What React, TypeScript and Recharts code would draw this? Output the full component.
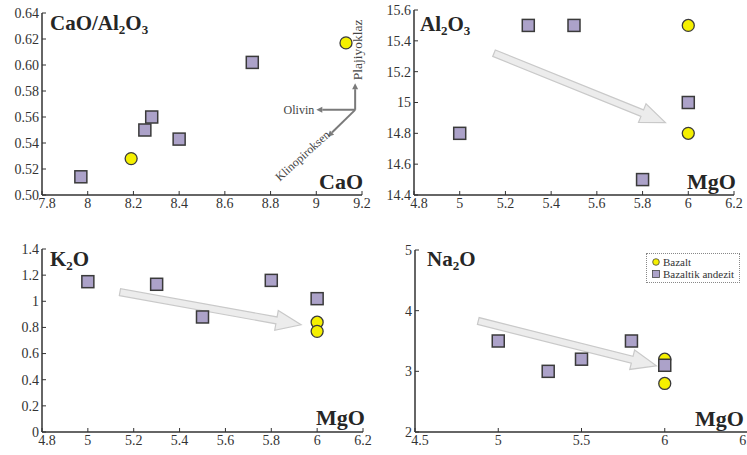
import React from 'react';
import { ScatterChart, Scatter, XAxis, YAxis, ReferenceLine } from 'recharts';

// CaO vs CaO/Al2O3
const bazaltCaO = [8.19, 9.13];
const bazaltCaORatio = [0.528, 0.617];
const andezitCaO = [7.97, 8.25, 8.28, 8.4, 8.72];
const andezitCaORatio = [0.514, 0.55, 0.56, 0.543, 0.602];

// MgO based panels
const bazaltMgO = [6.0, 6.0];
const andezitMgO = [5.0, 5.3, 5.5, 5.8, 6.0];
const bazaltAl2O3 = [15.5, 14.8];
const andezitAl2O3 = [14.8, 15.5, 15.5, 14.5, 15.0];
const bazaltK2O = [0.84, 0.77];
const andezitK2O = [1.15, 1.13, 0.88, 1.16, 1.02];
const bazaltNa2O = [3.2, 2.8];
const andezitNa2O = [3.5, 3.0, 3.2, 3.5, 3.1];

// tick labels
const caoTicks = [7.8, 8, 8.2, 8.4, 8.6, 8.8, 9, 9.2];
const ratioTicks = [0.5, 0.52, 0.54, 0.56, 0.58, 0.6, 0.62, 0.64];
const mgoTicks = [4.8, 5, 5.2, 5.4, 5.6, 5.8, 6, 6.2];
const al2o3Ticks = [14.4, 14.6, 14.8, 15, 15.2, 15.4, 15.6];
const k2oTicks = [0, 0.2, 0.4, 0.6, 0.8, 1, 1.2, 1.4];
const naMgoTicks = [4.5, 5, 5.5, 6, 6.5];
const na2oTicks = [2, 3, 4, 5];

// trend arrows (data coordinates)
const al2o3Trend = [{ x: 5.15, y: 15.32 }, { x: 5.9, y: 14.87 }];
const k2oTrend = [{ x: 5.14, y: 1.07 }, { x: 5.93, y: 0.82 }];
const na2oTrend = [{ x: 4.88, y: 3.83 }, { x: 5.95, y: 3.09 }];
// fractionation vectors in the CaO plot
const vecOrigin = { x: 9.17, y: 0.5655 };
const olivinEnd = { x: 9.0, y: 0.5655 };
const plajEnd = { x: 9.17, y: 0.586 };
const klinoEnd = { x: 9.05, y: 0.5448 };

const pts = (xs: number[], ys: number[]) => xs.map((x, i) => ({ x, y: ys[i] }));

const FONT = "'Times New Roman', 'Liberation Serif', Times, serif";
const Y_W = 42;
const X_H = 24;
const M_TOP = 10;
const M_RIGHT = 10;

const squareShape = (p: any) => (
  <rect x={p.cx - 6} y={p.cy - 6} width={12} height={12} fill="#aca2c9" stroke="#3a3a3a" strokeWidth={1.5} />
);
const circleShape = (p: any) => (
  <circle cx={p.cx} cy={p.cy} r={6} fill="#f5f000" stroke="#3a3a3a" strokeWidth={1.3} />
);

// wide light grey block arrow
const blockArrow = (p: any) => {
  const { x1, y1, x2, y2 } = p;
  const len = Math.hypot(x2 - x1, y2 - y1);
  const ux = (x2 - x1) / len;
  const uy = (y2 - y1) / len;
  const nx = -uy;
  const ny = ux;
  const sw = 3.5;
  const hw = 10;
  const hl = 25;
  const bx = x2 - ux * hl;
  const by = y2 - uy * hl;
  const poly = [
    [x1 + nx * sw, y1 + ny * sw],
    [bx + nx * sw, by + ny * sw],
    [bx + nx * hw, by + ny * hw],
    [x2, y2],
    [bx - nx * hw, by - ny * hw],
    [bx - nx * sw, by - ny * sw],
    [x1 - nx * sw, y1 - ny * sw],
  ]
    .map((q) => q.join(','))
    .join(' ');
  return <polygon points={poly} fill="#ececec" stroke="#c9c9c9" strokeWidth={1.2} />;
};

// thin dark vector arrow with a label
const vectorArrow = (label: string, kind: 'left' | 'up' | 'diag') => (p: any) => {
  const { x1, y1, x2, y2 } = p;
  const len = Math.hypot(x2 - x1, y2 - y1);
  const ux = (x2 - x1) / len;
  const uy = (y2 - y1) / len;
  const nx = -uy;
  const ny = ux;
  const hl = 6;
  const hw = 3;
  const bx = x2 - ux * hl;
  const by = y2 - uy * hl;
  let text: React.ReactNode = null;
  if (kind === 'left') {
    text = (
      <text x={x2 - 2} y={y2 + 4} textAnchor="end" fontSize={12} fill="#444" fontFamily={FONT}>
        {label}
      </text>
    );
  } else if (kind === 'up') {
    text = (
      <text x={x2 + 7} y={y2 - 3} textAnchor="start" fontSize={13.5} fill="#444" fontFamily={FONT}
        transform={`rotate(-90 ${x2 + 7} ${y2 - 3})`}>
        {label}
      </text>
    );
  } else {
    text = (
      <text x={x2 + 3} y={y2 - 1} textAnchor="end" fontSize={12} fill="#444" fontFamily={FONT}
        transform={`rotate(-42 ${x2 + 3} ${y2 - 1})`}>
        {label}
      </text>
    );
  }
  return (
    <g>
      <line x1={x1} y1={y1} x2={bx} y2={by} stroke="#7a7a7a" strokeWidth={2} />
      <polygon
        points={`${x2},${y2} ${bx + nx * hw},${by + ny * hw} ${bx - nx * hw},${by - ny * hw}`}
        fill="#7a7a7a"
      />
      {text}
    </g>
  );
};

const xTick = (p: any) => (
  <text x={p.x + (p.index === 0 ? 5 : 0)} y={p.y} dy="0.75em" textAnchor="middle" fontSize={14} fill="#333" fontFamily={FONT}>
    {String(p.payload.value)}
  </text>
);

const yTick = (fmt: (v: number) => string) => (p: any) => (
  <text x={p.x} y={p.y} dy="0.35em" textAnchor="end" fontSize={14} fill="#333" fontFamily={FONT}>
    {fmt(p.payload.value)}
  </text>
);

interface PanelProps {
  left: number;
  top: number;
  plotW: number;
  plotH: number;
  xDomain: [number, number];
  yDomain: [number, number];
  xTicks: number[];
  yTicks: number[];
  yFmt?: (v: number) => string;
  bazalt: { x: number; y: number }[];
  andezit: { x: number; y: number }[];
  children?: React.ReactNode;
}

function Panel(props: PanelProps) {
  const { left, top, plotW, plotH, xDomain, yDomain, xTicks, yTicks, yFmt, bazalt, andezit, children } = props;
  return (
    <div style={{ position: 'absolute', left: left - Y_W, top: top - M_TOP }}>
      <ScatterChart
        width={Y_W + plotW + M_RIGHT}
        height={M_TOP + plotH + X_H}
        margin={{ top: M_TOP, right: M_RIGHT, left: 0, bottom: 0 }}
      >
        <XAxis
          type="number"
          dataKey="x"
          domain={xDomain}
          ticks={xTicks}
          height={X_H}
          allowDataOverflow
          axisLine={{ stroke: '#333', strokeWidth: 1.5 }}
          tickLine={{ stroke: '#333' }}
          tickSize={-4}
          tickMargin={6}
          tick={xTick}
          interval={0}
        />
        <YAxis
          type="number"
          dataKey="y"
          domain={yDomain}
          ticks={yTicks}
          width={Y_W}
          allowDataOverflow
          axisLine={{ stroke: '#333', strokeWidth: 1.5 }}
          tickLine={{ stroke: '#333' }}
          tickSize={-4}
          tickMargin={7}
          tick={yTick(yFmt || ((v) => String(v)))}
          interval={0}
        />
        {children}
        <Scatter data={bazalt} shape={circleShape} isAnimationActive={false} />
        <Scatter data={andezit} shape={squareShape} isAnimationActive={false} />
      </ScatterChart>
    </div>
  );
}

const titleStyle = { fontFamily: FONT, fontWeight: 700, fontSize: 21, fill: '#262626' } as const;
const axisNameStyle = { fontFamily: FONT, fontWeight: 700, fontSize: 22, fill: '#262626' } as const;

export default function App() {
  return (
    <div
      style={{
        position: 'absolute',
        left: 0,
        top: 0,
        width: 747,
        height: 455,
        overflow: 'hidden',
        background: '#fff',
        fontFamily: FONT,
      }}
    >
      <Panel
        left={42}
        top={13}
        plotW={320}
        plotH={182}
        xDomain={[7.8, 9.2]}
        yDomain={[0.5, 0.64]}
        xTicks={caoTicks}
        yTicks={ratioTicks}
        yFmt={(v) => v.toFixed(2)}
        bazalt={pts(bazaltCaO, bazaltCaORatio)}
        andezit={pts(andezitCaO, andezitCaORatio)}
      >
        <ReferenceLine segment={[vecOrigin, olivinEnd]} shape={vectorArrow('Olivin', 'left')} />
        <ReferenceLine segment={[vecOrigin, plajEnd]} shape={vectorArrow('Plajiyoklaz', 'up')} />
        <ReferenceLine segment={[vecOrigin, klinoEnd]} shape={vectorArrow('Klinopiroksen', 'diag')} />
      </Panel>
      <Panel
        left={414}
        top={10}
        plotW={320}
        plotH={185}
        xDomain={[4.8, 6.2]}
        yDomain={[14.4, 15.6]}
        xTicks={mgoTicks}
        yTicks={al2o3Ticks}
        bazalt={pts(bazaltMgO, bazaltAl2O3)}
        andezit={pts(andezitMgO, andezitAl2O3)}
      >
        <ReferenceLine segment={al2o3Trend} shape={blockArrow} />
      </Panel>
      <Panel
        left={42}
        top={249}
        plotW={321}
        plotH={183}
        xDomain={[4.8, 6.2]}
        yDomain={[0, 1.4]}
        xTicks={mgoTicks}
        yTicks={k2oTicks}
        bazalt={pts(bazaltMgO, bazaltK2O)}
        andezit={pts(andezitMgO, andezitK2O)}
      >
        <ReferenceLine segment={k2oTrend} shape={blockArrow} />
      </Panel>
      <Panel
        left={415}
        top={250}
        plotW={333}
        plotH={182}
        xDomain={[4.5, 6.5]}
        yDomain={[2, 5]}
        xTicks={naMgoTicks}
        yTicks={na2oTicks}
        bazalt={pts(bazaltMgO, bazaltNa2O)}
        andezit={pts(andezitMgO, andezitNa2O)}
      >
        <ReferenceLine segment={na2oTrend} shape={blockArrow} />
      </Panel>

      <svg width={747} height={455} style={{ position: 'absolute', left: 0, top: 0, pointerEvents: 'none' }}>
        <text x={50} y={30} {...titleStyle}>
          CaO/Al<tspan fontSize={13} dy={4}>2</tspan><tspan dy={-4}>O</tspan><tspan fontSize={13} dy={4}>3</tspan>
        </text>
        <text x={363} y={189} textAnchor="end" {...axisNameStyle}>CaO</text>

        <text x={420} y={31} {...titleStyle}>
          Al<tspan fontSize={13} dy={4}>2</tspan><tspan dy={-4}>O</tspan><tspan fontSize={13} dy={4}>3</tspan>
        </text>
        <text x={736} y={189} textAnchor="end" {...axisNameStyle}>MgO</text>

        <text x={50} y={266} {...titleStyle}>
          K<tspan fontSize={13} dy={4}>2</tspan><tspan dy={-4}>O</tspan>
        </text>
        <text x={365} y={425} textAnchor="end" {...axisNameStyle}>MgO</text>

        <text x={427} y={266} {...titleStyle}>
          Na<tspan fontSize={13} dy={4}>2</tspan><tspan dy={-4}>O</tspan>
        </text>
        <text x={744} y={426} textAnchor="end" {...axisNameStyle}>MgO</text>
      </svg>

      <div
        style={{
          position: 'absolute',
          left: 646,
          top: 253,
          width: 94,
          height: 30,
          border: '1px dotted #888',
          boxSizing: 'border-box',
          fontSize: 11,
          lineHeight: '12px',
          color: '#333',
          padding: '2px 0 0 5px',
          whiteSpace: 'nowrap',
        }}
      >
        <div style={{ display: 'flex', alignItems: 'center', gap: 3 }}>
          <svg width={8} height={8}>
            <circle cx={4} cy={4} r={3.3} fill="#f5f000" stroke="#444" strokeWidth={0.8} />
          </svg>
          <span>Bazalt</span>
        </div>
        <div style={{ display: 'flex', alignItems: 'center', gap: 3 }}>
          <svg width={8} height={8}>
            <rect x={0.5} y={0.5} width={7} height={7} fill="#aca2c9" stroke="#444" strokeWidth={0.8} />
          </svg>
          <span>Bazaltik andezit</span>
        </div>
      </div>
    </div>
  );
}
